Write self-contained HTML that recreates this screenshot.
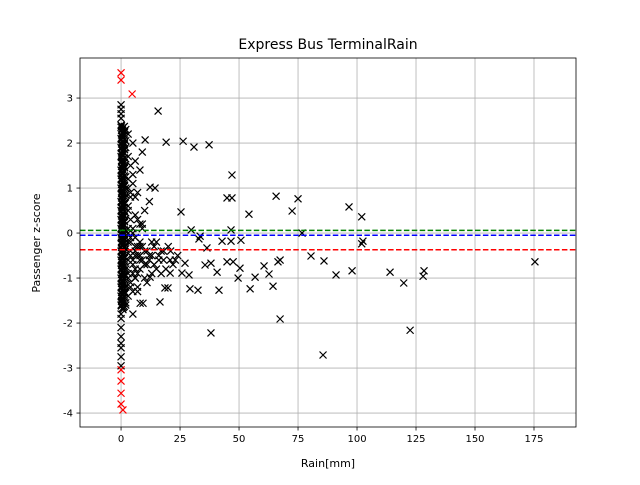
<!DOCTYPE html>
<html><head><meta charset="utf-8"><style>
body{margin:0;background:#fff}
svg text{font-family:"DejaVu Sans","Liberation Sans",sans-serif;fill:#000}
</style></head><body>
<svg id="chart" width="640" height="480" viewBox="0 0 640 480" xmlns="http://www.w3.org/2000/svg">
<rect width="640" height="480" fill="#fff"/>
<g id="grid"></g><g id="lines"></g><g id="pts"></g><g id="axes"></g>
<text x="328" y="49" font-size="14" text-anchor="middle">Express Bus TerminalRain</text>
<text x="328" y="467" font-size="11" text-anchor="middle">Rain[mm]</text>
<text x="40" y="243" font-size="11" text-anchor="middle" transform="rotate(-90 40 243)">Passenger z-score</text>
</svg>
<script>
const xTicks=[0,25,50,75,100,125,150,175];
const yTicks=[3,2,1,0,-1,-2,-3,-4];
const refLevels=[0.06,-0.05,-0.37];
const refColors=['#008000','#0000ff','#ff0000'];
const colX=[0,0.5,1,0,1.5,0,0.8,0,0.3,1.2,0,0.6,0,1,0,0.4,1.8,0,0.7,0,1.3,0,0.5,0,1,0,0.2,1.6,0,0.9,0,0.4,0,1.1,0,0.6,0,1.4,0,0.3,0,0.8,0,0,0,0,0,0,0,0,0,0,0,0,0,
1,1.5,0.5,2,1,1.5,0.5,2,1,1.5,0.5,2,1,1.5,0.5,2,1,1.5,0.5,2,1,1.5,0.5,2,1,1.5,0.5,2,1,1.5,0.5,2,1,1.5,0.5,2,1,1.5,0.5,2,1,
0.2,0.2,0.2,0.2,0.2,0.2,0.2,0.2,0.2,0.2,0.2,0.2,0.2,0.2,0.2,0.2,0.2,0.2,0.2,0.2,0.2,0.2,0.2,0.2,0.2,0.2,0.2,0.2,0.2,0.2,0.2,0.2,0.2,0.2,0.2,0.2,0.2,0.2,0.2,0.2,0.2,
0.6,0.6,0.6,0.6,0.6,0.6,0.6,0.6,0.6,0.6,0.6,0.6,0.6,0.6,0.6,0.6,0.6,0.6,0.6,0.6,0.6,0.6,0.6,0.6,0.6,0.6,0.6,0.6,0.6,0.6,0.6,0.6,0.6,0.6,0.6,0.6,0.6,0.6,0.6,0.6,0.6,
1.4,1.4,1.4,1.4,1.4,1.4,1.4,1.4,1.4,1.4,1.4,1.4,1.4,1.4,1.4,1.4,1.4,1.4,1.4,1.4,1.4,1.4,1.4,1.4,1.4,1.4,1.4,1.4,1.4,1.4,1.4,1.4,1.4,1.4,1.4,1.4,1.4,1.4,1.4,1.4,1.4];
const colY=[2.4,2.3,2.2,2.1,2.0,1.9,1.8,1.7,1.6,1.5,1.4,1.3,1.2,1.1,1.0,0.9,0.8,0.7,0.6,0.5,0.4,0.3,0.2,0.1,0.0,-0.1,-0.2,-0.3,-0.4,-0.5,-0.6,-0.7,-0.8,-0.9,-1.0,-1.1,-1.2,-1.3,-1.4,-1.5,-1.6,-1.7,2.55,2.65,2.75,2.85,-1.9,-2.1,-2.3,-2.45,-2.55,-2.75,-2.95,2.35,-1.8,
2.35,2.25,2.15,2.05,1.95,1.85,1.75,1.65,1.55,1.45,1.35,1.25,1.15,1.05,0.95,0.85,0.75,0.65,0.55,0.45,0.35,0.25,0.15,0.05,-0.05,-0.15,-0.25,-0.35,-0.45,-0.55,-0.65,-0.75,-0.85,-0.95,-1.05,-1.15,-1.25,-1.35,-1.45,-1.55,-1.65,
2.38,2.28,2.18,2.08,1.98,1.88,1.78,1.68,1.58,1.48,1.38,1.28,1.18,1.08,0.98,0.88,0.78,0.68,0.58,0.48,0.38,0.28,0.18,0.08,-0.02,-0.12,-0.22,-0.32,-0.42,-0.52,-0.62,-0.72,-0.82,-0.92,-1.02,-1.12,-1.22,-1.32,-1.42,-1.52,-1.62,
2.33,2.23,2.13,2.03,1.93,1.83,1.73,1.63,1.53,1.43,1.33,1.23,1.13,1.03,0.93,0.83,0.73,0.63,0.53,0.43,0.33,0.23,0.13,0.03,-0.07,-0.17,-0.27,-0.37,-0.47,-0.57,-0.67,-0.77,-0.87,-0.97,-1.07,-1.17,-1.27,-1.37,-1.47,-1.57,-1.67,
2.37,2.27,2.17,2.07,1.97,1.87,1.77,1.67,1.57,1.47,1.37,1.27,1.17,1.07,0.97,0.87,0.77,0.67,0.57,0.47,0.37,0.27,0.17,0.07,-0.03,-0.13,-0.23,-0.33,-0.43,-0.53,-0.63,-0.73,-0.83,-0.93,-1.03,-1.13,-1.23,-1.33,-1.43,-1.53,-1.63];
const rainX=[15.7,10.2,19.1,26.3,30.9,37.3,47,44.9,47,54.2,65.7,72.5,75,96.6,102,12.3,14.4,25.4,29.7,33.5,33,36.4,42.8,46.6,50.8,76.7,80.5,46.6,102.5,102,175.4,114,119.8,128,128.4,97.9,91.1,86,67.4,66.5,60.6,62.7,56.8,54.7,64.4,67.4,50.4,49.6,47.5,38.1,35.6,40.7,44.9,32.6,41.5,38.1,29.2,28.8,85.6,122.5,27.1,25.8,20.8,18.6,19.9,16.5,8.1,9.3,12.3,20.8,
2,3,4,5,6,3,2,4,7,8,3,5,6,9,10,12,14,16,11,13,8,6,4,3,2,5,7,15,18,22,24,10,12,6,8,9,5,3,2,10,17,20,4,6,2,3,9,7,11,13,19,
3,4,5,6,7,8,3,4,5,6,7,3,4,5,2,3,4,5,6,8,10,12,3,4,6,8,2,3,5,7,9,11,14,16,18,21,23,4,6,8,10,13,15,17,3,5,7,9];
const zScore=[2.71,2.07,2.02,2.04,1.91,1.96,1.29,0.78,0.78,0.42,0.82,0.49,0.76,0.58,0.36,1.02,1.0,0.47,0.07,-0.07,-0.13,-0.33,-0.18,-0.18,-0.16,0,-0.51,0.07,-0.18,-0.24,-0.64,-0.87,-1.11,-0.96,-0.84,-0.84,-0.93,-0.62,-0.6,-0.64,-0.73,-0.91,-0.98,-1.24,-1.18,-1.91,-0.78,-1.0,-0.64,-0.67,-0.71,-0.87,-0.64,-1.27,-1.27,-2.22,-1.24,-0.93,-2.71,-2.16,-0.67,-0.89,-0.6,-1.22,-1.22,-1.53,-1.56,-1.56,-0.98,-0.89,
1.9,1.7,1.5,1.3,1.6,1.2,1.0,0.9,0.3,0.2,0.5,0.1,-0.1,-0.3,-0.4,-0.5,-0.3,-0.6,-0.7,-0.9,-0.8,-1.0,-1.2,-1.4,-1.6,-1.8,-0.5,-0.2,-0.4,-0.7,-0.5,0.5,0.7,0.8,1.4,1.8,2.0,2.2,2.3,-1.0,-0.9,-0.3,-0.5,-0.3,-0.8,0.0,0.1,-1.2,-1.1,-0.2,-0.8,
-0.2,-0.4,-0.6,-0.8,-0.3,-0.5,-0.9,-1.1,-0.7,-1.0,-1.3,0.1,0.3,0.0,-0.1,-0.6,-0.2,-0.9,-0.4,-0.6,-0.7,-0.6,0.6,0.8,0.4,-0.2,-1.2,-1.0,-1.3,-0.9,-0.6,-0.4,-0.7,-0.5,-0.6,-0.4,-0.6,-0.1,-0.5,-0.3,-0.7,-0.5,-0.8,-0.4,1.0,1.1,0.9,0.2];
const outX=[0,0,4.7,0,0,0,0,0.8];
const outY=[3.56,3.4,3.09,-3.04,-3.29,-3.56,-3.8,-3.93];
const L=80,R=576,T=58,B=427,xmin=-17.4,xmax=192.8,ymin=-4.31,ymax=3.89;
const sx=v=>L+(v-xmin)/(xmax-xmin)*(R-L);
const sy=v=>B-(v-ymin)/(ymax-ymin)*(B-T);
const NS='http://www.w3.org/2000/svg';
function mk(tag,attrs,parent){const e=document.createElementNS(NS,tag);for(const k in attrs)e.setAttribute(k,attrs[k]);parent.appendChild(e);return e;}
const grid=document.getElementById('grid'),axes=document.getElementById('axes'),lines=document.getElementById('lines'),pts=document.getElementById('pts');
xTicks.forEach(t=>{const x=sx(t);
const g=mk('line',{x1:x,x2:x,y1:T,y2:B,stroke:'#b0b0b0','stroke-width':0.8},grid);


mk('line',{x1:x,x2:x,y1:B,y2:B+3.5,stroke:'#000','stroke-width':0.8},axes);
const tx=mk('text',{x:x,y:B+15,'font-size':10,'text-anchor':'middle'},axes);tx.textContent=t;

});
yTicks.forEach(t=>{const y=sy(t);
const g=mk('line',{x1:L,x2:R,y1:y,y2:y,stroke:'#b0b0b0','stroke-width':0.8},grid);


mk('line',{x1:L-3.5,x2:L,y1:y,y2:y,stroke:'#000','stroke-width':0.8},axes);
const tx=mk('text',{x:L-7,y:y+3.5,'font-size':10,'text-anchor':'end'},axes);tx.textContent=t;

});
const frame=mk('rect',{x:L,y:T,width:R-L,height:B-T,fill:'none',stroke:'#000','stroke-width':0.8},axes);


function cross(x,y,c,name){const X=sx(x),Y=sy(y),s=3.5;
const p=mk('path',{d:`M${X-s} ${Y-s}L${X+s} ${Y+s}M${X-s} ${Y+s}L${X+s} ${Y-s}`,stroke:c,'stroke-width':1.2,fill:'none'},pts);

}
colX.forEach((x,i)=>cross(x,colY[i],'#000','data-point'));
rainX.forEach((x,i)=>cross(x,zScore[i],'#000','data-point'));
outX.forEach((x,i)=>cross(x,outY[i],'#ff0000','outlier-point'));
refLevels.forEach((v,i)=>{const y=sy(v);
const l=mk('line',{x1:L,x2:R,y1:y,y2:y,stroke:refColors[i],'stroke-width':1.5,'stroke-dasharray':'5.5 2.4'},pts);

});
</script>
</body></html>
